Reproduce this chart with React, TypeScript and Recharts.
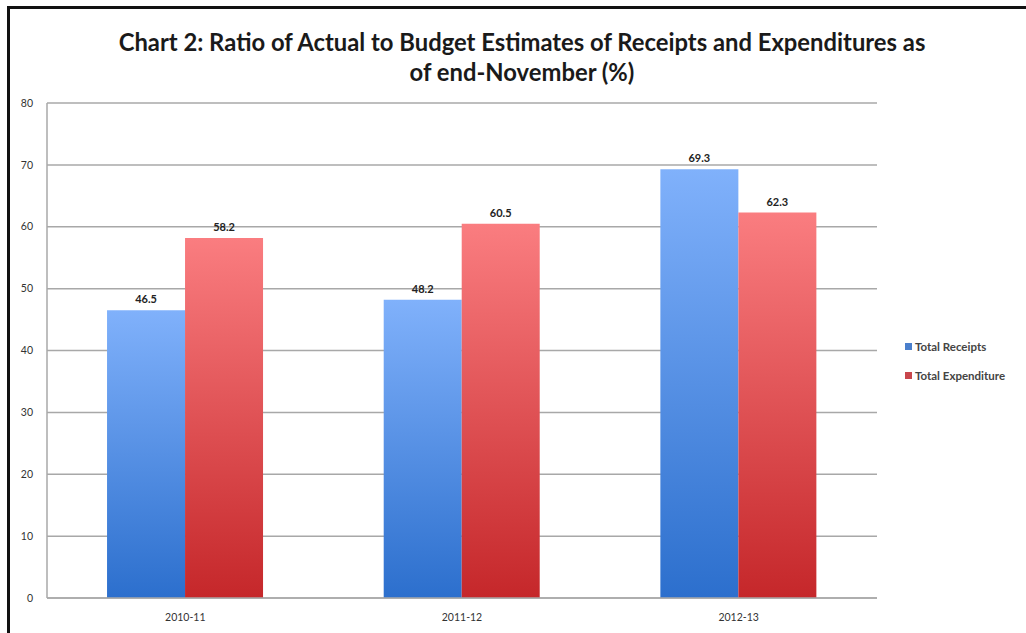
import React from "react"
import {
  BarChart,
  Bar,
  XAxis,
  YAxis,
  CartesianGrid,
  Legend,
  LabelList,
} from "recharts"

const YEARS = ["2010-11", "2011-12", "2012-13"]
const TOTAL_RECEIPTS = [46.5, 48.2, 69.3]
const TOTAL_EXPENDITURE = [58.2, 60.5, 62.3]
const Y_TICKS = [0, 10, 20, 30, 40, 50, 60, 70, 80]

const FONT = "Lato, 'Open Sans', sans-serif"

const data = YEARS.map((year, i) => ({
  year,
  receipts: TOTAL_RECEIPTS[i],
  expenditure: TOTAL_EXPENDITURE[i],
}))

// Legend drawn as a small list to the right of the plot
function ChartLegend() {
  const items = [
    { label: "Total Receipts", color: "#4a7fcc" },
    { label: "Total Expenditure", color: "#c8464c" },
  ]
  return (
    <div style={{ paddingLeft: 28, fontFamily: FONT }}>
      {items.map((it) => (
        <div
          key={it.label}
          style={{
            display: "flex",
            alignItems: "center",
            height: 29,
            fontSize: 11.5,
            fontWeight: 700,
            color: "#444",
            whiteSpace: "nowrap",
          }}
        >
          <span
            style={{
              display: "inline-block",
              flexShrink: 0,
              width: 7,
              height: 7,
              background: it.color,
              marginRight: 3,
            }}
          />
          {it.label}
        </div>
      ))}
    </div>
  )
}

export default function App() {
  return (
    <div
      style={{
        position: "absolute",
        left: 0,
        top: 0,
        width: 1026,
        height: 633,
        background: "#fff",
        overflow: "hidden",
      }}
    >
      {/* frame: only top and left edges show in the source */}
      <div
        style={{
          position: "absolute",
          left: 7,
          top: 6,
          width: 1030,
          height: 640,
          borderTop: "3px solid #111",
          borderLeft: "3px solid #111",
        }}
      />
      <div
        style={{
          position: "absolute",
          left: 0,
          top: 27,
          width: 1044,
          textAlign: "center",
          fontFamily: FONT,
          fontWeight: 700,
          fontSize: 23.8,
          lineHeight: "30px",
          color: "#1a1a1a",
        }}
      >
        Chart 2: Ratio of Actual to Budget Estimates of Receipts and Expenditures as
        <br />
        of end-November (%)
      </div>
      <div style={{ position: "absolute", left: 0, top: 0 }}>
        <BarChart
          width={1026}
          height={633}
          data={data}
          margin={{ top: 103, right: 29, bottom: 0, left: 7 }}
          barCategoryGap="21.7%"
          barGap={0}
        >
          <defs>
            <linearGradient id="blueGrad" x1="0" y1="0" x2="0" y2="1">
              <stop offset="0%" stopColor="#80b1fb" />
              <stop offset="100%" stopColor="#2c6fcd" />
            </linearGradient>
            <linearGradient id="redGrad" x1="0" y1="0" x2="0" y2="1">
              <stop offset="0%" stopColor="#fa7d80" />
              <stop offset="100%" stopColor="#c5272a" />
            </linearGradient>
          </defs>
          <CartesianGrid
            vertical={false}
            stroke="#a8a8a8"
            strokeWidth={1.5}
          />
          <XAxis
            dataKey="year"
            height={35}
            tickSize={0}
            tickMargin={16}
            axisLine={{ stroke: "#a8a8a8", strokeWidth: 1.5 }}
            tick={{ fill: "#333", fontSize: 10.5, fontFamily: FONT }}
          />
          <YAxis
            domain={[0, 80]}
            ticks={Y_TICKS}
            width={40}
            tickSize={0}
            tickMargin={14}
            interval={0}
            axisLine={{ stroke: "#a8a8a8", strokeWidth: 1.5 }}
            tick={{ fill: "#333", fontSize: 10.5, fontFamily: FONT }}
          />
          <Legend
            layout="vertical"
            align="right"
            verticalAlign="middle"
            width={120}
            wrapperStyle={{ top: 332 }}
            content={<ChartLegend />}
          />
          <Bar
            dataKey="receipts"
            name="Total Receipts"
            fill="url(#blueGrad)"
            isAnimationActive={false}
          >
            <LabelList
              dataKey="receipts"
              position="top"
              offset={7}
              style={{ fill: "#222", fontSize: 11, fontWeight: 700, fontFamily: FONT }}
            />
          </Bar>
          <Bar
            dataKey="expenditure"
            name="Total Expenditure"
            fill="url(#redGrad)"
            isAnimationActive={false}
          >
            <LabelList
              dataKey="expenditure"
              position="top"
              offset={7}
              style={{ fill: "#222", fontSize: 11, fontWeight: 700, fontFamily: FONT }}
            />
          </Bar>
        </BarChart>
      </div>
    </div>
  )
}
